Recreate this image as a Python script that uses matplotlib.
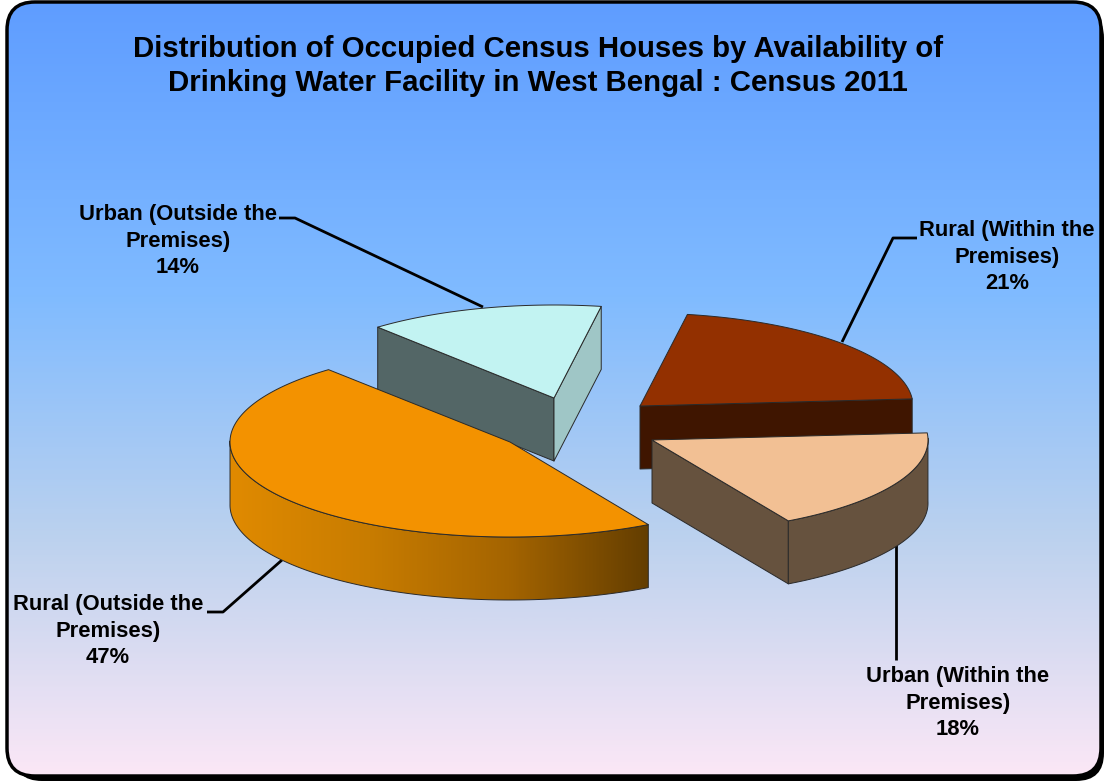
import numpy as np
import matplotlib
matplotlib.use("Agg")
import matplotlib.pyplot as plt
from matplotlib.patches import FancyBboxPatch, Polygon
from matplotlib.colors import LinearSegmentedColormap

plt.rcParams['font.family'] = ['Liberation Sans', 'DejaVu Sans']

TITLE = "Distribution of Occupied Census Houses by Availability of\nDrinking Water Facility in West Bengal : Census 2011"
categories = ["Rural (Within the\nPremises)", "Urban (Within the\nPremises)",
              "Rural (Outside the\nPremises)", "Urban (Outside the\nPremises)"]
values = [21, 18, 47, 14]

top_colors = ["#933000", "#F2C094", "#F39200", "#C2F3F2"]
start_wall_colors = ["#3F1500", "#66523E", "#664000", "#536666"]
end_wall_colors = ["#3F1500", "#66523E", "#664000", "#9FC6C6"]
arc_colors = ["#3F1500", "#66523E", None, "#9FC6C6"]

START_DEG = 10.0
DEPTH = 63.0
radii_x = [273, 276, 280, 272]
radii_y = [93, 93, 95, 93]
apexes = [(640, 406), (652, 440), (510, 442), (554, 398)]
draw_order = [0, 1, 3, 2]
label_xy = [(1007, 257), (958, 703), (108, 631), (178, 241)]
leaders = [[(917, 238), (893, 238), (842, 342)],
           [(896, 545), (896, 660)],
           [(282, 560), (223, 612), (207, 612)],
           [(279, 218), (295, 218), (483, 307)]]

W, H = 1104, 782
fig = plt.figure(figsize=(W / 100, H / 100), dpi=100, facecolor="white")
ax = fig.add_axes([0, 0, 1, 1])
ax.set_xlim(0, W)
ax.set_ylim(H, 0)
ax.axis("off")

# panel: shadow, border and gradient
shadow = FancyBboxPatch((14, 10), 1090, 771, boxstyle="round,pad=0,rounding_size=28",
                        fc="black", ec="black", lw=0, zorder=1)
ax.add_patch(shadow)
panel = FancyBboxPatch((7, 2), 1094, 774, boxstyle="round,pad=0,rounding_size=28",
                       fc="none", ec="black", lw=2.5, zorder=3)
ax.add_patch(panel)
bg_cmap = LinearSegmentedColormap.from_list(
    "bg", [(0, "#5F9DFF"), (0.38, "#80BBFF"), (0.7, "#BDD2EE"), (1, "#FBE7F6")])
bg = ax.imshow(np.linspace(0, 1, 400)[:, None], extent=(7, 1101, 776, 2), cmap=bg_cmap,
               aspect="auto", zorder=2)
clip = FancyBboxPatch((7, 2), 1094, 774, boxstyle="round,pad=0,rounding_size=28",
                      fc="none", ec="none", transform=ax.transData)
ax.add_patch(clip)
bg.set_clip_path(clip)
ax.set_xlim(0, W)
ax.set_ylim(H, 0)

EDGE = dict(ec="#2a2a2a", lw=0.7, joinstyle="round")
fractions = np.array(values, float) / sum(values)
starts = np.radians(START_DEG) + 2 * np.pi * np.concatenate([[0], np.cumsum(fractions)[:-1]])
ends = starts + 2 * np.pi * fractions

orange_cmap = LinearSegmentedColormap.from_list("wall", ["#E08A00", "#C87C00", "#A46400", "#643E00"])

for z_i, i in enumerate(draw_order):
    a, t0, t1 = apexes[i], starts[i], ends[i]
    rx, ry = radii_x[i], radii_y[i]
    z = 5 + z_i
    th = np.linspace(t0, t1, 160)
    xs = a[0] + rx * np.sin(th)
    ys = a[1] - ry * np.cos(th)
    # radial cut faces, only the ones turned towards the viewer
    if np.sin(t0) < 0:
        pts = [a, (xs[0], ys[0]), (xs[0], ys[0] + DEPTH), (a[0], a[1] + DEPTH)]
        ax.add_patch(Polygon(pts, fc=start_wall_colors[i], zorder=z, **EDGE))
    if np.sin(t1) > 0:
        pts = [a, (xs[-1], ys[-1]), (xs[-1], ys[-1] + DEPTH), (a[0], a[1] + DEPTH)]
        ax.add_patch(Polygon(pts, fc=end_wall_colors[i], zorder=z, **EDGE))
    # outer wall for the front-facing part of the arc
    front = np.cos(th) < 0.02
    if front.any():
        fx, fy = xs[front], ys[front]
        wall = np.column_stack([np.r_[fx, fx[::-1]], np.r_[fy, fy[::-1] + DEPTH]])
        if arc_colors[i] is None:
            p = Polygon(wall, fc="none", ec="none", zorder=z)
            ax.add_patch(p)
            im = ax.imshow(np.linspace(0, 1, 300)[None, :], extent=(fx.min(), fx.max(), 610, 430),
                           cmap=orange_cmap, aspect="auto", zorder=z)
            im.set_clip_path(p)
            ax.add_patch(Polygon(wall, fc="none", zorder=z, **EDGE))
            ax.set_xlim(0, W)
            ax.set_ylim(H, 0)
        else:
            ax.add_patch(Polygon(wall, fc=arc_colors[i], zorder=z, **EDGE))
    top = np.column_stack([np.r_[a[0], xs], np.r_[a[1], ys]])
    ax.add_patch(Polygon(top, fc=top_colors[i], zorder=z, **EDGE))

# leader lines sit behind the slices
for line in leaders:
    arr = np.array(line)
    ax.plot(arr[:, 0], arr[:, 1], color="black", lw=2.0, zorder=4, solid_capstyle="butt")

for name, v, (x, y) in zip(categories, values, label_xy):
    ax.text(x, y, f"{name}\n{v}%", ha="center", va="center", fontsize=15.85, fontweight="bold",
            color="black", linespacing=1.33, zorder=20)

ax.text(538, 66, TITLE, ha="center", va="center", fontsize=21.15, fontweight="bold",
        color="black", linespacing=1.25, zorder=20)

fig.savefig("out.png", dpi=100, facecolor="white")
